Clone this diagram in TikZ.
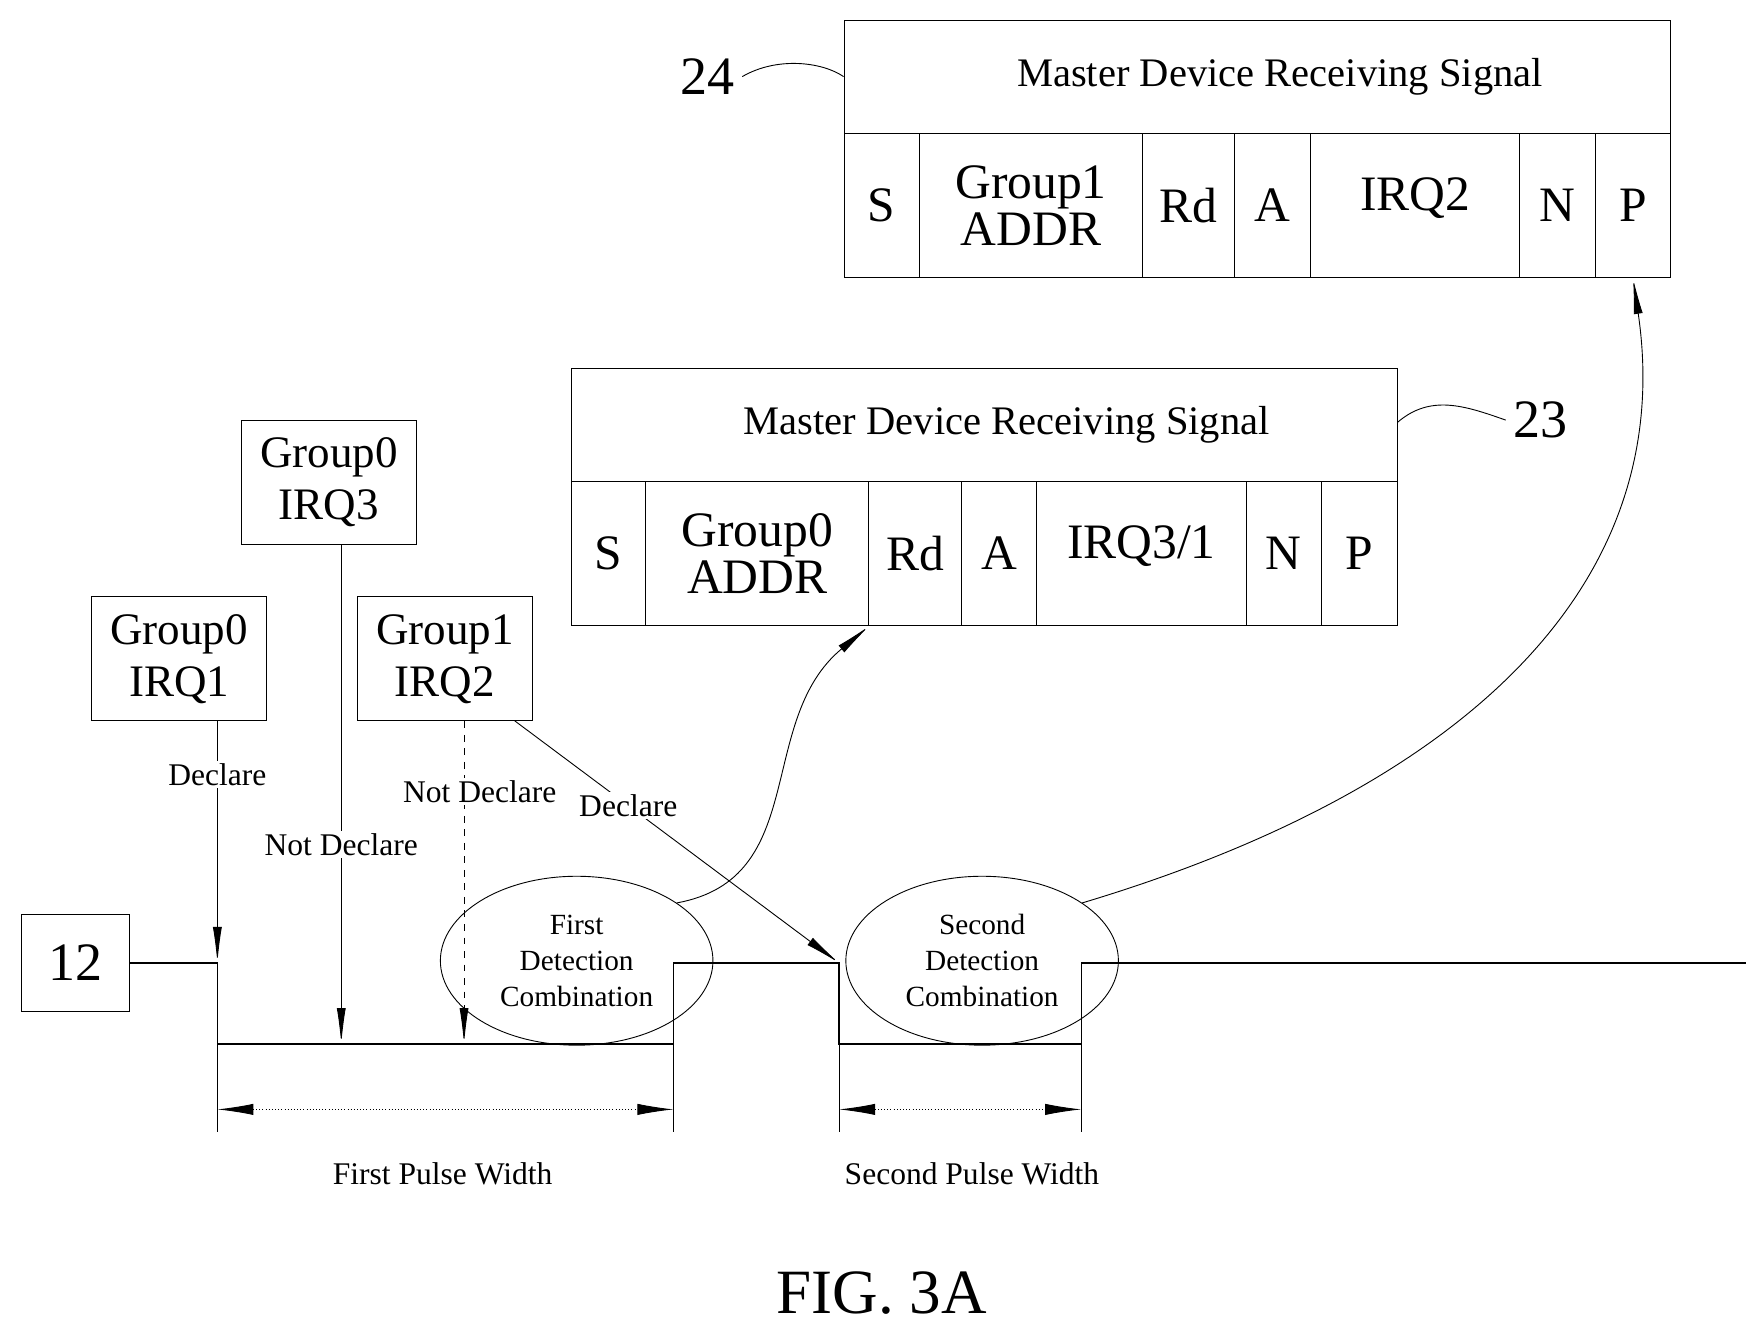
\documentclass[tikz,border=0pt]{standalone}
\usepackage{fontspec}
\setmainfont{Liberation Serif}
\usetikzlibrary{arrows.meta,shapes.geometric}
\begin{document}
\begin{tikzpicture}[x=0.5pt,y=-0.5pt]
    % Styles
    \tikzstyle{cell} = [draw, minimum height=64pt, inner sep=0pt, font=\fontsize{22}{24}\selectfont]
    \tikzstyle{irq} = [draw, minimum width=78pt, minimum height=55pt, align=center, font=\fontsize{20}{23}\selectfont]
    \tikzstyle{lbl} = [fill=white, inner sep=1pt, font=\fontsize{14}{16}\selectfont]
    \tikzstyle{arrow} = [-{Latex[length=16pt,width=4pt]}]
    \tikzstyle{wire} = [line width=0.6pt]
    \useasboundingbox (0,0) rectangle (1560,1179);

    % Receiving signal 24
    \node (title24) [draw, minimum width=367pt, minimum height=50pt, anchor=north west, font=\fontsize{18}{20}\selectfont] at (749,18) {\hspace{20pt}Master Device Receiving Signal};
    \foreach \a/\b/\t [count=\i] in {749/816/S, 816/1014/{Group1\\[-3pt]ADDR}, 1014/1096/Rd, 1096/1163/A, 1163/1349/{\raisebox{10pt}{IRQ2}}, 1349/1416/N, 1416/1483/P}
        \node (c24\i) [cell, align=center, minimum width={(\b-\a)*0.5pt}, anchor=north west] at (\a,118) {\t};
    \node (n24) [font=\fontsize{24}{26}\selectfont] at (628,68) {24};
    \draw (n24.east) .. controls (690,50) and (730,55) .. (title24.west |- 0,68);

    % Receiving signal 23
    \node (title23) [draw, minimum width=366.5pt, minimum height=50pt, anchor=north west, font=\fontsize{18}{20}\selectfont] at (507,327) {\hspace{20pt}Master Device Receiving Signal};
    \foreach \a/\b/\t [count=\i] in {507/573/S, 573/771/{Group0\\[-3pt]ADDR}, 771/853/Rd, 853/920/A, 920/1106/{\raisebox{10pt}{IRQ3/1}}, 1106/1173/N, 1173/1240/P}
        \node (c23\i) [cell, align=center, minimum width={(\b-\a)*0.5pt}, anchor=north west] at (\a,427) {\t};
    \node (n23) [font=\fontsize{24}{26}\selectfont] at (1368,373) {23};
    \draw (title23.east |- 0,375) .. controls (1270,350) and (1300,360) .. (n23.west);

    % Interrupt requests
    \node (g0i1) [irq] at (159,585) {Group0\\IRQ1};
    \node (g0i3) [irq] at (292,428) {Group0\\IRQ3};
    \node (g1i2) [irq] at (395,585) {Group1\\IRQ2};

    % Signal 12
    \node (n12) [draw, minimum width=48pt, minimum height=43pt, font=\fontsize{24}{26}\selectfont] at (67,855) {12};
    \draw[wire] (n12.east) -- (193,855) -- (193,927) -- (598,927) -- (598,855) -- (745,855)
        -- (745,927) -- (960,927) -- (960,855) -- (1550,855);
    \coordinate (hit1) at (193,855);
    \coordinate (hit3) at (303,927);
    \coordinate (hit2) at (412,927);
    \coordinate (hit4) at (745,855);

    % Declarations
    \draw[arrow] (g0i1.south -| hit1) -- node[lbl, pos=0.22] {Declare} (hit1);
    \draw[arrow] (g0i3.south -| hit3) -- node[lbl, pos=0.6] {Not Declare} (hit3);
    \draw[arrow, dashed] (g1i2.south -| hit2) -- (hit2);
    \node[lbl] at (426,703) {Not Declare};
    \draw[arrow] (457,640) -- node[lbl, pos=0.35] {Declare} (hit4);

    % Detection combinations
    \node (det1) [draw, ellipse, minimum width=121pt, minimum height=75pt, align=center, font=\fontsize{13}{16}\selectfont] at (512,853) {First\\Detection\\Combination};
    \node (det2) [draw, ellipse, minimum width=121pt, minimum height=75pt, align=center, font=\fontsize{13}{16}\selectfont] at (872,853) {Second\\Detection\\Combination};
    \draw[arrow] (det1.30) .. controls (720,780) and (670,640) .. (c232.south east);
    \draw[arrow] (det2.30) .. controls (1300,700) and (1490,520) .. (c247.south);

    % Pulse widths
    \foreach \x/\y in {193/927, 598/927, 745/855, 960/927}
        \draw (\x,\y) -- (\x,1005);
    \draw[{Latex[length=16pt,width=5pt]}-{Latex[length=16pt,width=5pt]}, densely dotted] (193,985) -- (598,985);
    \draw[{Latex[length=16pt,width=5pt]}-{Latex[length=16pt,width=5pt]}, densely dotted] (745,985) -- (960,985);
    \node (pw1) [font=\fontsize{14}{16}\selectfont] at (393,1042) {First Pulse Width};
    \node (pw2) [font=\fontsize{14}{16}\selectfont] at (863,1042) {Second Pulse Width};

    \node (fig) [font=\fontsize{28}{30}\selectfont] at (783,1148) {FIG. 3A};
\end{tikzpicture}
\end{document}
